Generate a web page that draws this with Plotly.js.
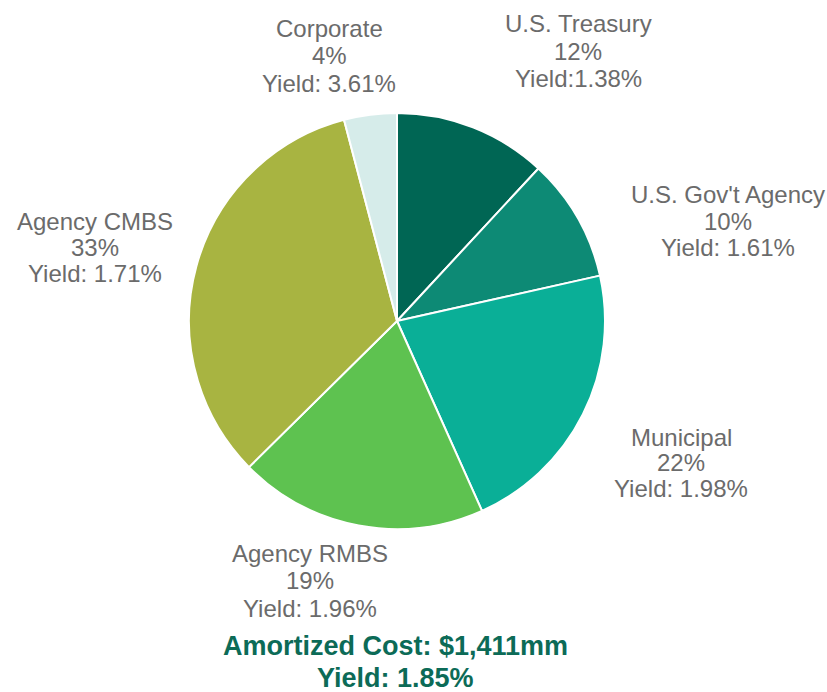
<!DOCTYPE html>
<html><head><meta charset="utf-8">
<script src="https://cdn.plot.ly/plotly-3.0.1.min.js"></script>
<style>html,body{margin:0;padding:0;background:#fff}#chart{width:827px;height:692px}</style>
</head><body><div id="chart"></div>
<script>
const categories = ["U.S. Treasury", "U.S. Gov't Agency", "Municipal", "Agency RMBS", "Agency CMBS", "Corporate"];
const shares = [11.9, 9.6, 21.8, 19.3, 33.3, 4.1];
const pctLabels = ["12%", "10%", "22%", "19%", "33%", "4%"];
const yieldLabels = ["Yield:1.38%", "Yield: 1.61%", "Yield: 1.98%", "Yield: 1.96%", "Yield: 1.71%", "Yield: 3.61%"];
const colors = ["#006654", "#0d8a75", "#0aaf97", "#5ec250", "#a8b441", "#d6ecea"];
const totalCost = "Amortized Cost: $1,411mm";
const totalYield = "Yield: 1.85%";

const W = 827, H = 692;
// label anchor positions (px): centre x, centre y of first line, line spacing
const labelPos = [[578, 24, 27.5], [728, 195, 26.3], [681, 437, 25.5], [310, 553, 27.5], [95, 222, 25.5], [329, 29, 27]];

const px = x => x / W, py = y => 1 - y / H;
const FONT = "Liberation Sans, Arial, sans-serif";

const annotations = [];
categories.forEach((c, i) => {
  const lines = [c, pctLabels[i], yieldLabels[i]];
  lines.forEach((t, k) => {
    annotations.push({
      text: t, x: px(labelPos[i][0]), y: py(labelPos[i][1] + k * labelPos[i][2]),
      xref: "paper", yref: "paper", xanchor: "center", yanchor: "middle",
      showarrow: false, align: "center",
      font: {family: FONT, size: 24, color: "#6b6b6b"}
    });
  });
});
annotations.push({
  text: "<b>" + totalCost + "</b>", x: px(395), y: py(646), xref: "paper", yref: "paper",
  xanchor: "center", yanchor: "middle", showarrow: false,
  font: {family: FONT, size: 27, color: "#0c6b57"}
});
annotations.push({
  text: "<b>" + totalYield + "</b>", x: px(395), y: py(678), xref: "paper", yref: "paper",
  xanchor: "center", yanchor: "middle", showarrow: false,
  font: {family: FONT, size: 27, color: "#0c6b57"}
});

const cx = 397, cy = 321, r = 208;
const data = [{
  type: "pie", labels: categories, values: shares, sort: false, direction: "clockwise",
  rotation: 0, textinfo: "none", hoverinfo: "label+percent",
  marker: {colors: colors, line: {color: "#ffffff", width: 2}},
  domain: {x: [px(cx - r), px(cx + r)], y: [py(cy + r), py(cy - r)]}
}];
const layout = {
  width: W, height: H, margin: {l: 0, r: 0, t: 0, b: 0}, showlegend: false,
  paper_bgcolor: "#ffffff", annotations: annotations
};
Plotly.newPlot("chart", data, layout, {displayModeBar: false, staticPlot: true});
</script></body></html>
